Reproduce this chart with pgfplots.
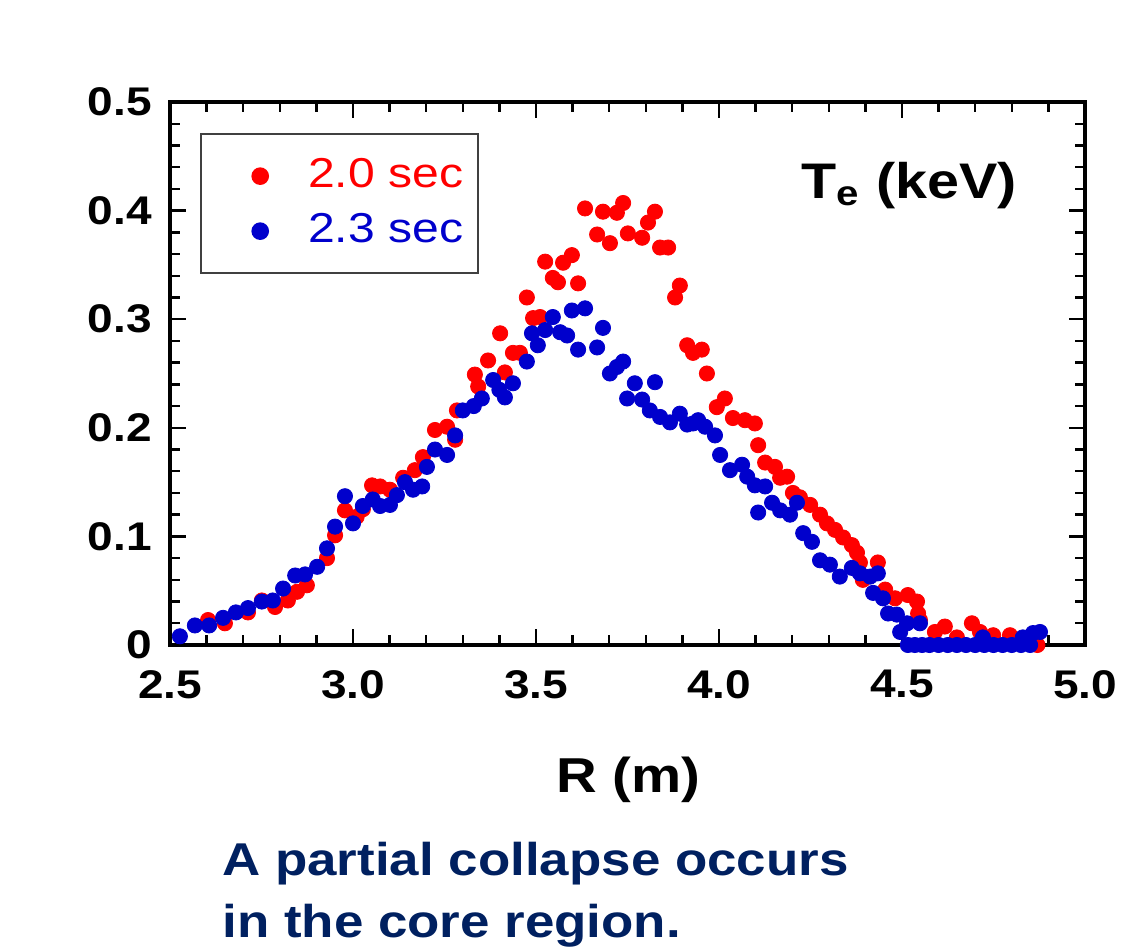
\documentclass[border=0pt]{standalone}
\usepackage{fontspec}
\setmainfont[FakeStretch=1.15]{Liberation Sans}
\usepackage{pgfplots}
\pgfplotsset{compat=1.18}
\definecolor{myred}{RGB}{255,0,0}
\definecolor{myblue}{RGB}{0,0,204}
\definecolor{navy}{RGB}{0,32,96}

\pgfplotstableread{
x y
2.604 0.023
2.650 0.020
2.713 0.030
2.751 0.041
2.787 0.035
2.822 0.041
2.847 0.049
2.874 0.055
2.929 0.080
2.951 0.101
2.978 0.124
3.010 0.118
3.027 0.125
3.052 0.147
3.074 0.146
3.101 0.143
3.137 0.154
3.169 0.161
3.191 0.173
3.224 0.198
3.257 0.201
3.279 0.189
3.284 0.216
3.333 0.249
3.342 0.238
3.369 0.262
3.402 0.287
3.415 0.251
3.437 0.269
3.456 0.269
3.475 0.320
3.492 0.301
3.511 0.302
3.525 0.353
3.546 0.338
3.560 0.334
3.574 0.352
3.598 0.359
3.615 0.333
3.634 0.402
3.667 0.378
3.683 0.399
3.702 0.370
3.721 0.398
3.738 0.407
3.751 0.379
3.790 0.375
3.806 0.389
3.825 0.399
3.839 0.366
3.861 0.366
3.880 0.320
3.893 0.331
3.913 0.276
3.929 0.269
3.953 0.272
3.967 0.250
3.994 0.219
4.016 0.227
4.038 0.209
4.071 0.207
4.098 0.204
4.107 0.184
4.126 0.168
4.153 0.164
4.167 0.154
4.186 0.155
4.202 0.140
4.221 0.136
4.249 0.129
4.276 0.120
4.295 0.112
4.317 0.106
4.339 0.099
4.363 0.092
4.377 0.085
4.385 0.076
4.393 0.060
4.434 0.076
4.454 0.051
4.481 0.043
4.516 0.046
4.541 0.040
4.544 0.029
4.549 0.023
4.590 0.012
4.617 0.017
4.650 0.007
4.691 0.020
4.713 0.012
4.749 0.009
4.795 0.009
4.822 0.004
4.850 0.002
4.870 0.000
}\redtab

\pgfplotstableread{
x y
2.527 0.008
2.568 0.018
2.607 0.018
2.645 0.025
2.680 0.030
2.713 0.034
2.751 0.040
2.781 0.041
2.809 0.052
2.842 0.064
2.869 0.065
2.902 0.072
2.929 0.089
2.951 0.109
2.978 0.137
3.000 0.112
3.027 0.128
3.054 0.134
3.074 0.128
3.101 0.129
3.120 0.138
3.142 0.150
3.164 0.143
3.189 0.146
3.202 0.164
3.224 0.180
3.257 0.175
3.279 0.193
3.300 0.216
3.330 0.220
3.352 0.227
3.383 0.244
3.400 0.235
3.415 0.228
3.437 0.241
3.475 0.261
3.489 0.287
3.505 0.276
3.525 0.290
3.546 0.302
3.566 0.288
3.585 0.285
3.598 0.308
3.615 0.272
3.634 0.310
3.667 0.274
3.683 0.292
3.702 0.250
3.721 0.256
3.738 0.261
3.749 0.227
3.770 0.241
3.790 0.226
3.811 0.216
3.825 0.242
3.839 0.210
3.866 0.205
3.893 0.213
3.913 0.203
3.929 0.204
3.943 0.207
3.962 0.201
3.989 0.193
4.003 0.175
4.030 0.161
4.063 0.166
4.077 0.155
4.098 0.147
4.107 0.122
4.126 0.146
4.145 0.131
4.167 0.124
4.194 0.120
4.213 0.131
4.230 0.103
4.254 0.095
4.276 0.078
4.303 0.074
4.330 0.063
4.363 0.071
4.385 0.066
4.413 0.063
4.421 0.048
4.434 0.066
4.448 0.043
4.462 0.029
4.486 0.028
4.495 0.012
4.514 0.020
4.516 0.000
4.535 0.000
4.549 0.020
4.555 0.000
4.575 0.000
4.600 0.000
4.625 0.000
4.650 0.000
4.675 0.000
4.700 0.000
4.721 0.007
4.725 0.000
4.750 0.000
4.775 0.000
4.800 0.000
4.825 0.000
4.830 0.007
4.850 0.000
4.858 0.011
4.877 0.012
}\bluetab

\begin{document}
\begin{tikzpicture}
\useasboundingbox (0,0) rectangle (564.5pt,475pt);
\begin{axis}[
  at={(85pt,152.5pt)}, anchor=south west,
  scale only axis, width=457.5pt, height=271.5pt,
  xmin=2.5, xmax=5.0, ymin=0, ymax=0.5,
  xtick={2.5,3.0,3.5,4.0,4.5,5.0},
  ytick={0,0.1,0.2,0.3,0.4,0.5},
  minor x tick num=4, minor y tick num=4,
  tick align=inside,
  major tick length=8pt, minor tick length=5pt,
  every tick/.style={black, line width=1.2pt},
  axis line style={line width=1.6pt},
  /pgf/number format/assume math mode=true,
  ticklabel style={font=\bfseries\fontsize{20}{22}\selectfont, inner sep=0pt},
  xticklabel style={yshift=-12.5pt, /pgf/number format/.cd, fixed, fixed zerofill, precision=1},
  yticklabel style={xshift=-9pt, /pgf/number format/.cd, fixed},
  legend style={at={(0.0328,0.943)}, anchor=north west, draw=black!75, line width=1.2pt,
    inner xsep=5.5pt, inner ysep=9.5pt, row sep=4.5pt,
    nodes={inner sep=2pt, text height=15pt, text depth=4pt},
    font=\fontsize{20.9}{22}\selectfont},
  legend cell align=left,
  legend image code/.code={\path[draw=none,fill=none] (0pt,-1pt) rectangle (46pt,1pt);
    \draw[mark repeat=2,mark phase=2,#1] plot coordinates {(0pt,0pt) (24pt,0pt) (46pt,0pt)};},
]
\addplot[only marks, mark=*, color=myred, mark size=3.8pt] table[x=x,y=y] {\redtab};
\addlegendentry{\textcolor{myred}{2.0 sec}}
\addplot[only marks, mark=*, color=myblue, mark size=3.8pt] table[x=x,y=y] {\bluetab};
\addlegendentry{\textcolor{myblue}{2.3 sec}}
\end{axis}
\node[anchor=base east, font=\bfseries\fontsize{25}{27}\selectfont, inner sep=0pt] at (508.5pt,376pt) {T\textsubscript{e} (keV)};
\node[anchor=base, font=\bfseries\fontsize{24.5}{27}\selectfont, inner sep=0pt] at (314pt,79pt) {R (m)};
\node[anchor=base west, font=\bfseries\fontsize{23}{25}\selectfont, text=navy, inner sep=0pt] at (111pt,37.5pt) {A partial collapse occurs};
\node[anchor=base west, font=\bfseries\fontsize{23}{25}\selectfont, text=navy, inner sep=0pt] at (111pt,6.5pt) {in the core region.};
\end{tikzpicture}
\end{document}
